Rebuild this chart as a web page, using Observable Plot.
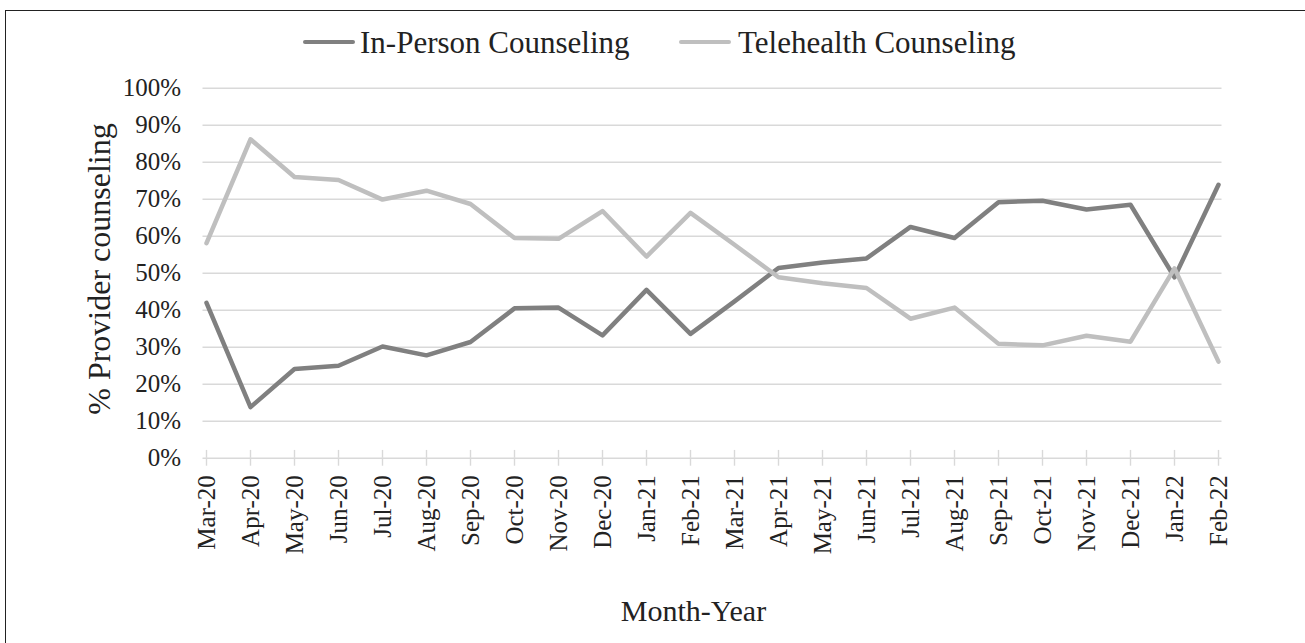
<!DOCTYPE html>
<html><head><meta charset="utf-8">
<script src="https://cdn.jsdelivr.net/npm/d3@7"></script>
<script src="https://cdn.jsdelivr.net/npm/@observablehq/plot@0.6"></script>
<style>
html,body{margin:0;padding:0;background:#fff;overflow:hidden;width:1305px;height:643px;}
#wrap{position:relative;width:1305px;height:643px;overflow:hidden;font-family:"Liberation Serif","Times New Roman",serif;color:#222;}
#frame{position:absolute;left:5px;top:10px;width:1400px;height:700px;border:1.4px solid #222;box-sizing:border-box;}
#chart{position:absolute;left:0;top:0;}
.sw{position:absolute;height:4.5px;border-radius:2.25px;}
.lt{position:absolute;font-size:31px;line-height:31px;white-space:nowrap;}
#ytitle{position:absolute;width:400px;height:32px;font-size:32px;line-height:32px;text-align:center;white-space:nowrap;left:-100.8px;top:253px;transform:rotate(-90deg);transform-origin:200px 16px;}
#xtitle{position:absolute;width:400px;font-size:30px;line-height:30px;text-align:center;left:493.5px;top:595.6px;white-space:nowrap;}
</style></head>
<body>
<div id="wrap">
  <div id="frame"></div>
  <div id="chart"></div>
  <div id="legend"></div>
  <div id="ytitle">% Provider counseling</div>
  <div id="xtitle">Month-Year</div>
</div>
<script>
const months = ["Mar-20","Apr-20","May-20","Jun-20","Jul-20","Aug-20","Sep-20","Oct-20","Nov-20","Dec-20","Jan-21","Feb-21","Mar-21","Apr-21","May-21","Jun-21","Jul-21","Aug-21","Sep-21","Oct-21","Nov-21","Dec-21","Jan-22","Feb-22"];
const inPerson   = [42.0,13.8,24.1,25.0,30.2,27.8,31.4,40.5,40.7,33.2,45.5,33.6,42.4,51.4,52.9,54.0,62.5,59.5,69.2,69.6,67.2,68.5,48.9,73.9];
const telehealth = [58.1,86.2,76.0,75.2,69.9,72.3,68.7,59.5,59.3,66.8,54.5,66.3,57.7,48.9,47.3,46.0,37.7,40.7,30.9,30.5,33.1,31.5,51.3,26.1];
const seriesNames = ["In-Person Counseling","Telehealth Counseling"];
const seriesColors = ["#808080","#bfbfbf"];
const yTicks = [0,10,20,30,40,50,60,70,80,90,100];

const rows = [];
[inPerson, telehealth].forEach((vals, s) => {
  months.forEach((m, i) => rows.push({month: m, series: seriesNames[s], value: vals[i]}));
});

const chart = Plot.plot({
  width: 1305,
  height: 643,
  marginLeft: 202.5,
  marginRight: 83.5,
  marginTop: 87.7,
  marginBottom: 185.3,
  style: {fontFamily: '"Liberation Serif","Times New Roman",serif', background: "transparent", color: "#222"},
  x: {type: "point", domain: months, padding: 0},
  y: {domain: [0, 100]},
  color: {domain: seriesNames, range: seriesColors},
  marks: [
    Plot.gridY(yTicks.filter(t => t > 0), {stroke: "#d9d9d9", strokeOpacity: 1, strokeWidth: 1.4}),
    Plot.ruleY([0], {stroke: "#d9d9d9", strokeWidth: 1.4}),
    Plot.ruleX(months, {x: d => d, y1: 0, y2: 2.1, stroke: "#d9d9d9", strokeWidth: 1.4}),
    Plot.axisX({tickRotate: -90, tickSize: 8, tickPadding: 9, fontSize: 25, stroke: "#d9d9d9", strokeOpacity: 1, strokeWidth: 1.4, label: null}),
    Plot.axisY({ticks: yTicks, tickFormat: d => d + "%", tickSize: 0, tickPadding: 22, fontSize: 25, label: null}),
    Plot.line(rows, {x: "month", y: "value", z: "series", stroke: "series", strokeWidth: 4.5, strokeLinejoin: "round", strokeLinecap: "round"})
  ]
});
document.getElementById("chart").appendChild(chart);

// legend
const legend = document.getElementById("legend");
const swatchX = [303, 679];
const textX = [360, 738];
seriesNames.forEach((name, i) => {
  const sw = document.createElement("div");
  sw.className = "sw";
  sw.style.left = swatchX[i] + "px";
  sw.style.top = (42 - 2.25) + "px";
  sw.style.width = "52px";
  sw.style.background = seriesColors[i];
  legend.appendChild(sw);
  const t = document.createElement("div");
  t.className = "lt";
  t.style.left = textX[i] + "px";
  t.style.top = "26.7px";
  t.textContent = name;
  legend.appendChild(t);
});
</script>
</body></html>
